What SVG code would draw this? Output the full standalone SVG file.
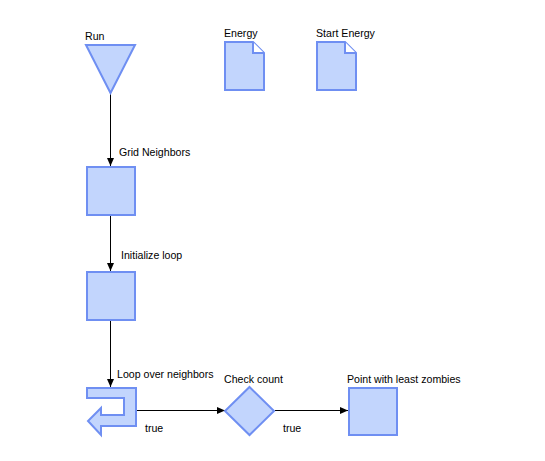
<svg xmlns="http://www.w3.org/2000/svg" width="545" height="461" viewBox="0 0 545 461">
<defs>
<style>
.n{fill:#c2d5fd;stroke:#6f8ff2;stroke-width:2;stroke-linejoin:miter}
.e{stroke:#000;stroke-width:1;fill:none}
text{font-family:"Liberation Sans",Arial,sans-serif;font-size:10.6px;fill:#000}
</style>
<marker id="a" viewBox="0 0 8 8" refX="8" refY="4" markerWidth="8" markerHeight="8" markerUnits="userSpaceOnUse" orient="auto">
<path d="M0,0.5 L8,4 L0,7.5 Z" fill="#000"/>
</marker>
</defs>
<rect width="545" height="461" fill="#fff"/>
<g id="connectors">
<line class="e" x1="110.5" y1="94" x2="110.5" y2="166" marker-end="url(#a)"/>
<line class="e" x1="110.5" y1="216" x2="110.5" y2="271" marker-end="url(#a)"/>
<line class="e" x1="110.5" y1="321" x2="110.5" y2="387" marker-end="url(#a)"/>
<line class="e" x1="137" y1="410.5" x2="225" y2="410.5" marker-end="url(#a)"/>
<line class="e" x1="275" y1="410.5" x2="348" y2="410.5" marker-end="url(#a)"/>
<text x="119" y="156">Grid Neighbors</text>
<text x="121" y="259">Initialize loop</text>
<text x="117" y="378">Loop over neighbors</text>
<text x="145" y="432">true</text>
<text x="283" y="432">true</text>
</g>
<g id="run">
<path class="n" d="M86,45 L135,45 L110.5,93 Z"/>
<text x="85" y="40">Run</text>
</g>
<g id="energy">
<path class="n" d="M225,42 L253,42 L264,53 L264,90 L225,90 Z"/>
<path d="M253,42 L253,53 L264,53" fill="#fff" stroke="#6f8ff2" stroke-width="2"/>
<text x="224" y="37">Energy</text>
</g>
<g id="start-energy">
<path class="n" d="M317,42 L345,42 L356,53 L356,90 L317,90 Z"/>
<path d="M345,42 L345,53 L356,53" fill="#fff" stroke="#6f8ff2" stroke-width="2"/>
<text x="316" y="37">Start Energy</text>
</g>
<g id="grid-neighbors">
<rect class="n" x="87" y="167" width="48" height="48"/>
</g>
<g id="initialize-loop">
<rect class="n" x="87" y="272" width="48" height="48"/>
</g>
<g id="loop">
<path class="n" d="M87,388 L136,388 L136,426 L101,426 L101,435 L88,421 L101,408 L101,415 L124,415 L124,398 L87,398 Z"/>
</g>
<g id="check-count">
<path class="n" d="M249.5,387 L274,411 L249.5,435 L225,411 Z"/>
<text x="224" y="383">Check count</text>
</g>
<g id="point">
<rect class="n" x="349" y="388" width="48" height="47"/>
<text x="347" y="383">Point with least zombies</text>
</g>
</svg>
